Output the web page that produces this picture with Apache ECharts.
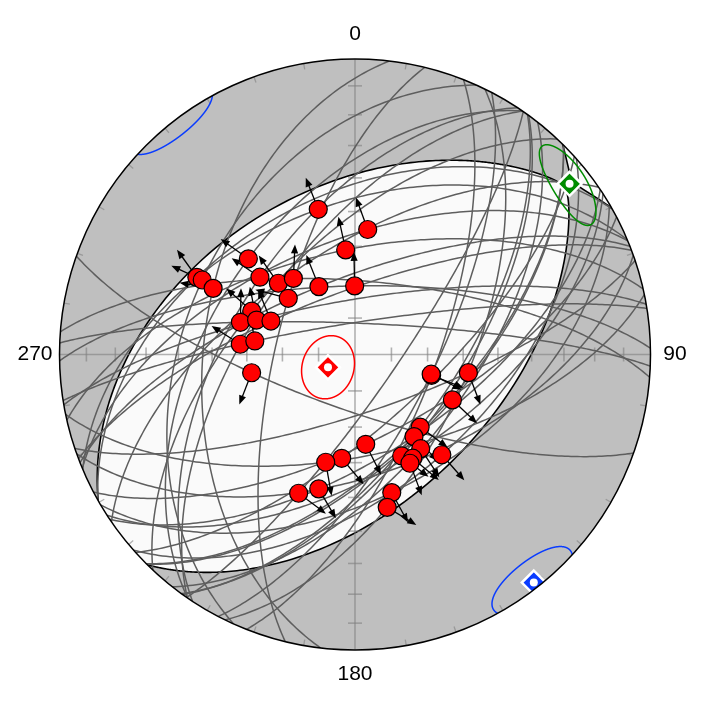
<!DOCTYPE html>
<html><head><meta charset="utf-8">
<script src="https://cdn.jsdelivr.net/npm/echarts@6.0.0/dist/echarts.min.js"></script>
<style>html,body{margin:0;padding:0;background:#fff}#c{width:709px;height:709px}</style>
</head><body><div id="c"></div>
<script>
// ---- Data (degrees) ----
// Slip lines (striae) on fault planes: trend / plunge, and slip arrow azimuth
const striaTrend = [345.8, 5.8, 354.9, 311.9, 296.0, 296.0, 295.0, 309.1, 312.9, 321.0, 332.0, 359.7, 310.1, 292.8, 285.7, 289.3, 291.7, 275.1, 277.7, 260.0,
  105.2, 104.5, 99.1, 115.0, 138.1, 144.3, 145.1, 139.1, 155.3, 150.9, 153.2, 173.2, 187.3, 195.2, 195.1, 202.1, 165.1, 168.1];
const striaPlunge = [48.0, 55.0, 60.9, 49.9, 40.2, 42.0, 46.0, 55.9, 61.0, 62.9, 68.8, 71.1, 65.9, 58.9, 56.9, 61.1, 65.0, 58.0, 62.0, 60.9,
  68.1, 68.3, 58.1, 60.2, 63.0, 62.0, 58.1, 53.0, 59.0, 57.0, 56.1, 65.0, 61.0, 59.0, 51.1, 48.0, 50.0, 46.1];
const slipAzimuth = [338.4, 339.8, 347.7, 305.5, 324.3, 294.6, 279.5, 303.9, 324.7, 2.7, 338.3, 358.8, 284.7, 311.7, 1.0, 348.5, 337.9, 302.5, 350.0, 201.2,
  111.3, 117.1, 159.4, 133.5, 126.4, 135.5, 146.9, 138.6, 127.9, 130.0, 159.7, 153.2, 139.9, 170.1, 149.9, 126.8, 151.4, 121.1];
// Principal axes (1, 2, 3) with confidence cones
const principalTrend = [244.7, 51.5, 141.9];
const principalPlunge = [81.8, 8.0, 2.2];
const confMajor = [8.8, 9.8, 9.6];
const confMinor = [7.1, 6.0, 8.1];
const confRotation = [43, 17, 0];
// Compatible region (elliptic cone)
const regionAxisTrend = 254.7, regionAxisPlunge = 81.0;
const regionHalfAngle = [88.0, 44.4];
// Net graduation
const plungeTicks = [10, 20, 30, 40, 50, 60, 70, 80];
const azimuthLabels = ['0', '90', '180', '270'];
const labelAzimuth = [0, 90, 180, 270];

// ---- Styles ----
const axisColors = ['#ff0000', '#008c00', '#0a3cff'];
const GRAY_BG = '#bfbfbf', REGION_FILL = '#fafafa';

// ---- Geometry helpers (equal-area, lower hemisphere) ----
const D2R = Math.PI / 180;
function vec(t, p) { t *= D2R; p *= D2R; return [Math.cos(p) * Math.cos(t), Math.cos(p) * Math.sin(t), Math.sin(p)]; }
function norm(v) { const l = Math.hypot(v[0], v[1], v[2]); return [v[0] / l, v[1] / l, v[2] / l]; }
function dot(a, b) { return a[0] * b[0] + a[1] * b[1] + a[2] * b[2]; }
function cross(a, b) { return [a[1] * b[2] - a[2] * b[1], a[2] * b[0] - a[0] * b[2], a[0] * b[1] - a[1] * b[0]]; }
function proj(v) { let n = v[0], e = v[1], d = v[2]; if (d < 0) { n = -n; e = -e; d = -d; } const k = 1 / Math.sqrt(1 + d); return [e * k, n * k]; }

// Fault plane pole: 90 deg from the stria, opposite to the slip arrow along the movement plane
function planePole(T, P, az) {
  const th = (90 - P) * D2R, t = T * D2R, c2 = Math.cos(th / 2), rel = (az - T) * D2R;
  const ur = Math.cos(rel) / (Math.SQRT1_2 * c2), ut = Math.sin(rel) * (Math.SQRT2 * c2);
  const eTh = [Math.cos(th) * Math.cos(t), Math.cos(th) * Math.sin(t), -Math.sin(th)];
  const eT = [-Math.sin(t), Math.cos(t), 0];
  const tv = norm([0, 1, 2].map(i => ur * eTh[i] + ut * eT[i]));
  let N = [-tv[0], -tv[1], -tv[2]];
  if (N[2] < 0) N = [-N[0], -N[1], -N[2]];
  return N;
}
function greatCircle(N) {
  let s = [N[1], -N[0], 0];
  if (Math.hypot(s[0], s[1]) < 1e-9) s = [1, 0, 0];
  s = norm(s);
  let d = cross(N, s); if (d[2] < 0) d = [-d[0], -d[1], -d[2]];
  const out = [];
  for (let k = 0; k <= 180; k++) {
    const th = k * D2R, c = Math.cos(th), sn = Math.sin(th);
    out.push(proj([c * s[0] + sn * d[0], c * s[1] + sn * d[1], c * s[2] + sn * d[2]]));
  }
  return out;
}
function coneFrame(axis, omegaDeg) {
  const H = norm([axis[1], -axis[0], 0]);
  const W = cross(axis, H);
  const w = omegaDeg * D2R;
  const U = norm([0, 1, 2].map(i => Math.cos(w) * H[i] + Math.sin(w) * W[i]));
  return [U, cross(axis, U)];
}
function coneLoop(axis, U, V, a, b, n) {
  const ta = Math.tan(a * D2R), tb = Math.tan(b * D2R), out = [];
  for (let k = 0; k < n; k++) {
    const f = 2 * Math.PI * k / n;
    out.push(norm([0, 1, 2].map(i => axis[i] + ta * Math.cos(f) * U[i] + tb * Math.sin(f) * V[i])));
  }
  return out;
}
function crossing(v1, v2) {
  const t = v1[2] / (v1[2] - v2[2]);
  const v = [0, 1, 2].map(i => v1[i] + t * (v2[i] - v1[i]));
  const h = Math.hypot(v[0], v[1]);
  return [v[0] / h, v[1] / h, 0];
}
function splitRuns(vs) {
  const n = vs.length, sg = vs.map(v => v[2] >= 0);
  let start = -1;
  for (let i = 0; i < n; i++) { if (sg[i] !== sg[(i - 1 + n) % n]) { start = i; break; } }
  if (start < 0) return [{ lower: sg[0], pts: vs.concat([vs[0]]), closed: true }];
  const runs = []; let cur = null;
  for (let k = 0; k < n; k++) {
    const i = (start + k) % n, prev = (i - 1 + n) % n;
    if (sg[i] !== sg[prev]) {
      const c = crossing(vs[prev], vs[i]);
      if (cur) { cur.pts.push(c); runs.push(cur); }
      cur = { lower: sg[i], pts: [c], closed: false };
    }
    cur.pts.push(vs[i]);
  }
  cur.pts.push(crossing(vs[(start - 1 + n) % n], vs[start]));
  runs.push(cur);
  return runs;
}
function arcPts(p1, p2) {
  const a1 = Math.atan2(p1[0], p1[1]), a2 = Math.atan2(p2[0], p2[1]);
  let d = a2 - a1; while (d > Math.PI) d -= 2 * Math.PI; while (d < -Math.PI) d += 2 * Math.PI;
  const m = Math.max(1, Math.ceil(Math.abs(d) / (0.5 * D2R))), out = [];
  for (let k = 1; k < m; k++) { const a = a1 + d * k / m; out.push([Math.sin(a), Math.cos(a)]); }
  return out;
}
function coneShapes(axis, U, V, a, b) {
  const runs = splitRuns(coneLoop(axis, U, V, a, b, 3000));
  const fills = [], lines = [];
  runs.forEach(run => {
    const pts = run.pts.map(v => proj(run.lower ? v : [-v[0], -v[1], -v[2]]));
    lines.push(pts);
    fills.push(run.closed ? pts : pts.concat(arcPts(pts[pts.length - 1], pts[0])));
  });
  return { fills, lines };
}

// ---- Derived geometry ----
const striaXY = striaTrend.map((t, i) => proj(vec(t, striaPlunge[i])));
const gcPts = striaTrend.map((t, i) => greatCircle(planePole(t, striaPlunge[i], slipAzimuth[i])));
const axesV = principalTrend.map((t, i) => vec(t, principalPlunge[i]));
const axesXY = axesV.map(proj);
const confShapes = axesV.map((ax, i) => { const [U, V] = coneFrame(ax, confRotation[i]); return coneShapes(ax, U, V, confMajor[i], confMinor[i]); });
const rc = vec(regionAxisTrend, regionAxisPlunge);
const g2 = axesV[1];
const rU = norm([0, 1, 2].map(i => g2[i] - dot(g2, rc) * rc[i]));
const rV = cross(rc, rU);
const regionShape = coneShapes(rc, rU, rV, regionHalfAngle[0], regionHalfAngle[1]);

// ---- Chart ----
const chart = echarts.init(document.getElementById('c'));
const GRIDLINE = 'rgba(128,128,128,0.6)';
function radiusPx(api) { const c0 = api.coord([0, 0]); return [c0, api.coord([1, 0])[0] - c0[0]]; }

const series = [
  { type: 'custom', z: 1, silent: true, data: [[0, 0]], renderItem: (p, api) => {
      const [c0, R] = radiusPx(api);
      const ch = [{ type: 'circle', shape: { cx: c0[0], cy: c0[1], r: R }, style: { fill: GRAY_BG } }];
      regionShape.fills.forEach(poly => ch.push({ type: 'polygon', shape: { points: poly.map(q => api.coord(q)) }, style: { fill: REGION_FILL } }));
      regionShape.lines.forEach(l => ch.push({ type: 'polyline', shape: { points: l.map(q => api.coord(q)) }, style: { stroke: '#000', lineWidth: 1.6, fill: 'none' } }));
      return { type: 'group', children: ch };
    } },
  { type: 'custom', z: 2, silent: true, data: [[0, 0]], renderItem: (p, api) => {
      const [c0, R] = radiusPx(api);
      const st = { stroke: GRIDLINE, lineWidth: 1.6 };
      const ch = [
        { type: 'line', shape: { x1: c0[0] - R, y1: c0[1], x2: c0[0] + R, y2: c0[1] }, style: st },
        { type: 'line', shape: { x1: c0[0], y1: c0[1] - R, x2: c0[0], y2: c0[1] + R }, style: st }
      ];
      [0, 90, 180, 270].forEach(az => {
        const s = Math.sin(az * D2R), c = Math.cos(az * D2R);
        plungeTicks.forEach(pl => {
          const r = Math.sqrt(1 - Math.sin(pl * D2R));
          const q = api.coord([r * s, r * c]);
          ch.push({ type: 'line', shape: { x1: q[0] - 7 * c, y1: q[1] - 7 * s, x2: q[0] + 7 * c, y2: q[1] + 7 * s }, style: st });
        });
      });
      for (let az = 10; az < 360; az += 10) {
        if (az % 90 === 0) continue;
        const s = Math.sin(az * D2R), c = Math.cos(az * D2R), q = api.coord([s, c]);
        ch.push({ type: 'line', shape: { x1: q[0], y1: q[1], x2: q[0] - 6 * s, y2: q[1] + 6 * c }, style: { stroke: GRIDLINE, lineWidth: 1.3 } });
      }
      return { type: 'group', children: ch };
    } },
  { type: 'custom', z: 3, silent: true, data: striaXY, renderItem: (p, api) => ({
      type: 'polyline', shape: { points: gcPts[p.dataIndex].map(q => api.coord(q)) },
      style: { stroke: '#5e5e5e', lineWidth: 1.5, fill: 'none' } }) },
  { type: 'custom', z: 4, silent: true, data: axesXY, renderItem: (p, api) => ({
      type: 'group', children: confShapes[p.dataIndex].lines.map(l => ({
        type: 'polyline', shape: { points: l.map(q => api.coord(q)) },
        style: { stroke: axisColors[p.dataIndex], lineWidth: 1.5, fill: 'none' } })) }) },
  { type: 'custom', z: 5, silent: true, data: striaXY.map((q, i) => [q[0], q[1], slipAzimuth[i]]), renderItem: (p, api) => {
      const q = api.coord([api.value(0), api.value(1)]), az = api.value(2) * D2R;
      const L = 34, HL = 9, HW = 3.6, dx = Math.sin(az), dy = -Math.cos(az);
      const tip = [q[0] + L * dx, q[1] + L * dy], base = [tip[0] - HL * dx, tip[1] - HL * dy];
      return { type: 'group', children: [
        { type: 'line', shape: { x1: q[0], y1: q[1], x2: base[0] + dx, y2: base[1] + dy }, style: { stroke: '#000', lineWidth: 1.3 } },
        { type: 'polygon', shape: { points: [tip, [base[0] - HW * dy, base[1] + HW * dx], [base[0] + HW * dy, base[1] - HW * dx]] }, style: { fill: '#000' } }
      ] };
    } },
  { type: 'scatter', z: 6, silent: true, data: striaXY, symbol: 'circle', symbolSize: 18,
    itemStyle: { color: '#ff0000', borderColor: '#000', borderWidth: 1.2, opacity: 1 } },
  { type: 'scatter', z: 7, silent: true, symbol: 'diamond', symbolSize: 24,
    data: axesXY.map((q, i) => ({ value: q, itemStyle: { color: axisColors[i], borderColor: '#fff', borderWidth: 2.5, opacity: 1 } })) },
  { type: 'scatter', z: 8, silent: true, symbol: 'circle', symbolSize: 8, data: axesXY,
    itemStyle: { color: '#fff', opacity: 1 } },
  { type: 'custom', z: 9, silent: true, data: [[0, 0]], renderItem: (p, api) => {
      const [c0, R] = radiusPx(api);
      return { type: 'group', children: [
        { type: 'circle', shape: { cx: c0[0], cy: c0[1], r: R + 210 }, style: { fill: 'none', stroke: '#fff', lineWidth: 420 } },
        { type: 'circle', shape: { cx: c0[0], cy: c0[1], r: R }, style: { fill: 'none', stroke: '#000', lineWidth: 1.5 } }
      ] };
    } },
  { type: 'custom', z: 10, silent: true, data: labelAzimuth.map(a => [1.083 * Math.sin(a * D2R), 1.083 * Math.cos(a * D2R)]),
    renderItem: (p, api) => {
      const q = api.coord([api.value(0), api.value(1)]);
      return { type: 'text', x: q[0], y: q[1], style: { text: azimuthLabels[p.dataIndex], fill: '#000', fontSize: 21,
        fontFamily: 'Liberation Sans, Arial, Helvetica, sans-serif', align: 'center', verticalAlign: 'middle',
        textAlign: 'center', textVerticalAlign: 'middle' } };
    } }
];

chart.setOption({
  animation: false,
  grid: { left: 0, top: 0, width: 709, height: 709 },
  xAxis: { type: 'value', min: -355 / 295.5, max: 354 / 295.5, show: false },
  yAxis: { type: 'value', min: -354.5 / 295.5, max: 354.5 / 295.5, show: false },
  series: series
});
</script>
</body></html>
